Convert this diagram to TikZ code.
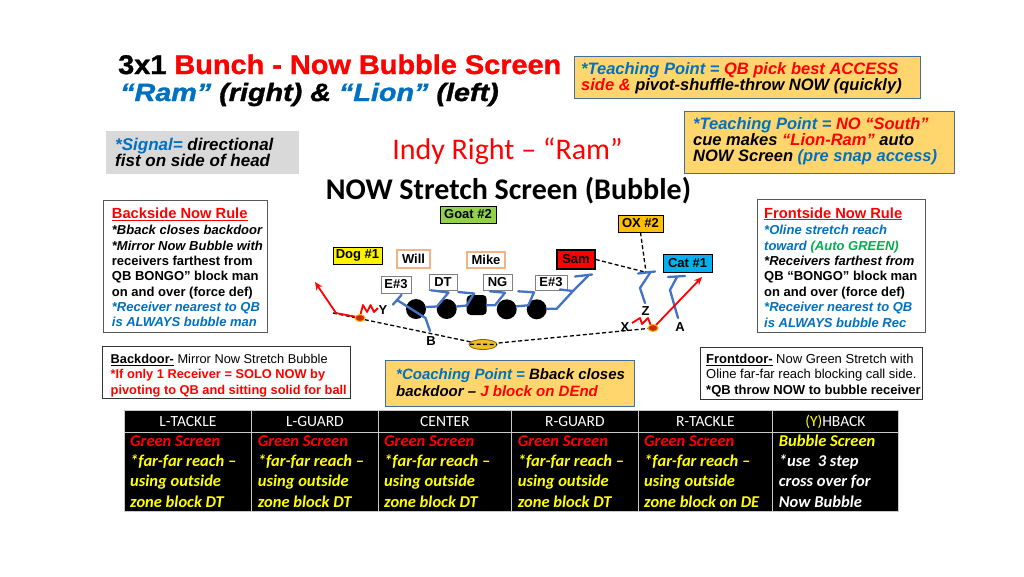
\documentclass[tikz,border=0pt]{standalone}
\usepackage{fontspec}
\usepackage{graphicx}
\setmainfont{Liberation Sans}
\newfontfamily\calfont{Carlito}
\newfontfamily\heavyfont{Liberation Sans Bold}[FakeBold=1.2]
\newfontfamily\heavyitfont{Liberation Sans Bold Italic}[FakeBold=1.2]
\usetikzlibrary{arrows.meta}
\lineskiplimit=-100pt
\lineskip=0pt
\newcommand\fsz[2]{\fontsize{#1}{#2}\selectfont\lineskiplimit=-100pt\lineskip=0pt\relax}
\newcommand\mystrut[1]{\rule{0pt}{#1pt}}
\definecolor{tblue}{RGB}{0,112,192}
\definecolor{tred}{RGB}{255,0,0}
\definecolor{tpfill}{RGB}{255,214,110}
\definecolor{tpdraw}{RGB}{70,110,150}
\definecolor{agreen}{RGB}{0,176,80}
\definecolor{sigfill}{RGB}{217,217,217}
\definecolor{blk}{RGB}{68,114,196}
\definecolor{goatc}{RGB}{146,208,80}
\definecolor{oxc}{RGB}{255,192,0}
\definecolor{catc}{RGB}{0,176,240}
\definecolor{lbord}{RGB}{244,177,131}
\definecolor{tyel}{RGB}{255,255,0}
\definecolor{gridc}{RGB}{200,200,200}
\definecolor{ballc}{RGB}{200,45,20}
\definecolor{ballo}{RGB}{255,180,0}
\definecolor{fbc}{RGB}{240,190,40}
\definecolor{fbd}{RGB}{140,100,0}
\tikzset{
  txt/.style={inner sep=0pt, align=left, anchor=north west},
  tpbox/.style={draw=tpdraw, fill=tpfill, line width=1pt, anchor=north west, inner sep=0pt},
  rulebox/.style={draw=black!65, fill=white, line width=0.9pt, anchor=north west, inner sep=0pt},
  doorbox/.style={draw=black!80, fill=white, line width=0.9pt, anchor=north west, inner sep=0pt},
  tag/.style={draw=black, line width=0.7pt, inner sep=0pt, font=\bfseries\fsz{13}{13}},
  oline/.style={draw=gray, fill=white, line width=0.8pt, inner sep=0pt, font=\bfseries\fsz{13}{13}},
  lbk/.style={draw=lbord, fill=white, line width=1.5pt, inner sep=0pt, font=\bfseries\fsz{13}{13}},
  block/.style={draw=blk, line width=2.3pt, line join=round, line cap=round},
  motion/.style={draw=red, line width=1.8pt, line join=round},
  assign/.style={draw=black, line width=1.3pt, dash pattern=on 4pt off 2.5pt},
  man/.style={circle, fill=black, minimum size=20pt, inner sep=0pt},
  lbl/.style={font=\bfseries\fsz{13}{13}, inner sep=0pt},
  hdr/.style={text=white, font=\calfont\fsz{15.5}{15.5}, anchor=base, inner sep=0pt},
  cell/.style={txt, font=\calfont\bfseries\itshape\fsz{16.5}{20.3}, text=tyel},
}
\begin{document}
\begin{tikzpicture}[x=1pt,y=-1pt]
\path[use as bounding box, fill=white] (0,0) rectangle (1024,576);

% ---------- title ----------
\node[anchor=base west, inner sep=0pt] (t1) at (118,74)
  {\scalebox{1.07}[1]{\heavyfont\fsz{27}{27}3x1 \textcolor{tred}{Bunch - Now Bubble Screen}}};
\node[anchor=base west, inner sep=0pt] (t2) at (120,101)
  {\scalebox{1.15}[1]{\heavyitfont\fsz{25}{25}\textcolor{tblue}{“Ram”} (right) \& \textcolor{tblue}{“Lion”} (left)}};

% ---------- teaching points ----------
\node[tpbox, minimum width=346pt, minimum height=42pt] (tp1box) at (574,56) {};
\node[txt, font=\bfseries\itshape\fsz{16.5}{16.5}] (tp1) at (581,60)
  {\mystrut{14}\textcolor{tblue}{*Teaching Point =} \textcolor{tred}{QB pick best ACCESS}\\
   \textcolor{tred}{side \&} pivot-shuffle-throw NOW (quickly)};
\node[tpbox, minimum width=270pt, minimum height=62pt] (tp2box) at (684,111) {};
\node[txt, font=\bfseries\itshape\fsz{16.5}{16}] (tp2) at (693,115)
  {\mystrut{14}\textcolor{tblue}{*Teaching Point =} \textcolor{tred}{NO “South”}\\
   cue makes \textcolor{tred}{“Lion-Ram”} auto\\
   NOW Screen \textcolor{tblue}{(pre snap access)}};

% ---------- signal ----------
\node[fill=sigfill, anchor=north west, minimum width=193pt, minimum height=43pt, inner sep=0pt] (sigbox) at (106,131) {};
\node[txt, font=\bfseries\itshape\fsz{17}{15.5}] (sig) at (115,136)
  {\mystrut{14.5}\textcolor{tblue}{*Signal=} directional\\fist on side of head};

% ---------- center titles ----------
\node[anchor=base, inner sep=0pt, font=\calfont\fsz{30}{30}, text=tred] (indy) at (507.5,159) {Indy Right – “Ram”};
\node[anchor=base, inner sep=0pt, font=\calfont\bfseries\fsz{30}{30}] (nowss) at (508.5,199) {NOW Stretch Screen (Bubble)};

% ---------- backside rule ----------
\node[rulebox, minimum width=164pt, minimum height=132pt] (bsbox) at (103,200) {};
\node[anchor=base west, inner sep=0pt, font=\bfseries\fsz{14.7}{14.7}, text=tred] (bshead) at (111.7,218.3) {\underline{Backside Now Rule}};
\node[txt, font=\bfseries\fsz{13}{15.3}] (bsbody) at (111.7,223.6)
  {\mystrut{11}\textit{*Bback closes backdoor}\\
   \textit{*Mirror Now Bubble with}\\
   receivers farthest from\\
   QB BONGO” block man\\
   on and over (force def)\\
   \textcolor{tblue}{\textit{*Receiver nearest to QB}}\\
   \textcolor{tblue}{\textit{is ALWAYS bubble man}}};

% ---------- frontside rule ----------
\node[rulebox, minimum width=168pt, minimum height=133pt] (fsbox) at (757,199) {};
\node[anchor=base west, inner sep=0pt, font=\bfseries\fsz{14.7}{14.7}, text=tred] (fshead) at (764,218) {\underline{Frontside Now Rule}};
\node[txt, font=\bfseries\fsz{13}{15.4}] (fsbody) at (764,223.4)
  {\mystrut{11}\textcolor{tblue}{\textit{*Oline stretch reach}}\\
   \textcolor{tblue}{\textit{toward}} \textcolor{agreen}{\textit{(Auto GREEN)}}\\
   \textit{*Receivers farthest from}\\
   QB “BONGO” block man\\
   on and over (force def)\\
   \textcolor{tblue}{\textit{*Receiver nearest to QB}}\\
   \textcolor{tblue}{\textit{is ALWAYS bubble Rec}}};

% ---------- bottom boxes ----------
\node[doorbox, minimum width=248pt, minimum height=52pt] (bdbox) at (102,346) {};
\node[txt, font=\fsz{12.8}{15.5}] (bd) at (110.5,352.1)
  {\mystrut{11}\textbf{\underline{Backdoor-}} Mirror Now Stretch Bubble\\
   \textcolor{tred}{\textbf{*If only 1 Receiver = SOLO NOW by}}\\
   \textcolor{tred}{\textbf{pivoting to QB and sitting solid for ball}}};
\node[tpbox, minimum width=249pt, minimum height=46pt] (cpbox) at (385,360) {};
\node[txt, font=\bfseries\itshape\fsz{15}{17.5}] (cp) at (396,366.3)
  {\mystrut{12.7}\textcolor{tblue}{*Coaching Point =} Bback closes\\
   backdoor – \textcolor{tred}{J block on DEnd}};
\node[doorbox, minimum width=222pt, minimum height=52pt] (fdbox) at (700,347) {};
\node[txt, font=\fsz{13}{15.5}] (fd) at (706,352)
  {\mystrut{11}\textbf{\underline{Frontdoor-}} Now Green Stretch with\\
   Oline far-far reach blocking call side.\\
   \textbf{*QB throw NOW to bubble receiver}};

% ---------- table ----------
\fill[black] (124,410) rectangle (898,511);
\draw[gridc, line width=1pt] (124,410) rectangle (898,511);
\draw[gridc, line width=1pt] (124,432) -- (898,432);
\foreach \gx in {251.7,378,511.7,638,772.7} \draw[gridc, line width=1pt] (\gx,410) -- (\gx,511);
\node[hdr] (h1) at (187.9,426) {L-TACKLE};
\node[hdr] (h2) at (314.9,426) {L-GUARD};
\node[hdr] (h3) at (444.9,426) {CENTER};
\node[hdr] (h4) at (574.9,426) {R-GUARD};
\node[hdr] (h5) at (705.4,426) {R-TACKLE};
\node[hdr] (h6) at (835.4,426) {\textcolor{tyel}{(Y)}HBACK};
\node[cell] (c1) at (130,432) {\mystrut{14}\textcolor{tred}{Green Screen}\\*far-far reach –\\using outside\\zone block DT};
\node[cell] (c2) at (257.7,432) {\mystrut{14}\textcolor{tred}{Green Screen}\\*far-far reach –\\using outside\\zone block DT};
\node[cell] (c3) at (384,432) {\mystrut{14}\textcolor{tred}{Green Screen}\\*far-far reach –\\using outside\\zone block DT};
\node[cell] (c4) at (517.7,432) {\mystrut{14}\textcolor{tred}{Green Screen}\\*far-far reach –\\using outside\\zone block DT};
\node[cell] (c5) at (644,432) {\mystrut{14}\textcolor{tred}{Green Screen}\\*far-far reach –\\using outside\\zone block on DE};
\node[cell, text=white] (c6) at (778.7,432) {\mystrut{14}\textcolor{tyel}{Bubble Screen}\\*use~ 3 step\\cross over for\\Now Bubble};

% ---------- field: defenders ----------
\node[tag, fill=goatc, minimum width=56pt, minimum height=17pt] (goat) at (468,214.5) {Goat \#2};
\node[tag, fill=oxc, minimum width=45pt, minimum height=17pt] (ox) at (640.5,223.5) {OX \#2};
\node[tag, fill=yellow, minimum width=49pt, minimum height=17pt] (dog) at (357.5,255.5) {Dog \#1};
\node[lbk, minimum width=33pt, minimum height=18pt] (will) at (413.5,259) {Will};
\node[lbk, minimum width=38pt, minimum height=16pt] (mike) at (486,260) {Mike};
\node[tag, fill=tred, line width=1.5pt, minimum width=38pt, minimum height=19pt] (sam) at (576,259.5) {Sam};
\node[tag, fill=catc, minimum width=49pt, minimum height=18pt] (cat) at (687.5,263) {Cat \#1};
\node[oline, minimum width=30pt, minimum height=17pt] (e3l) at (396,284.5) {E\#3};
\node[oline, minimum width=28pt, minimum height=16pt] (dt) at (443,282) {DT};
\node[oline, minimum width=29pt, minimum height=16pt] (ng) at (497.5,282) {NG};
\node[oline, minimum width=32pt, minimum height=15pt] (e3r) at (551,282.5) {E\#3};

% ---------- offensive line ----------
\node[man] (lt) at (416,309) {};
\node[man] (lg) at (446.7,309) {};
\node[fill=black, rounded corners=4pt, minimum size=20pt, inner sep=0pt] (ctr) at (476.7,305) {};
\node[man] (rg) at (506.7,309.3) {};
\node[man] (rt) at (536.7,309.3) {};

% coordinates for assignments
\coordinate (zcap) at (646,272.3);
\coordinate (qbl) at (333,313);
\coordinate (qb) at (483,344.5);
\coordinate (qbr) at (653,328);

% dashed assignment lines
\draw[assign] (sam.east) -- (zcap);
\draw[assign] (ox.south) -- (zcap);
\draw[assign] (qbl) -- (qb) -- (qbr);

% blocks
\draw[block] (426,307) -- (437,306.5) -- (448.5,292.5) -- (431,290.3);
\draw[block] (456.7,306.5) -- (466.7,305.5) -- (474,293.5) -- (458.3,292);
\draw[block] (486.7,305.3) -- (495,305.3) -- (505,292.7) -- (490,291.3);
\draw[block] (516.7,306.3) -- (528.3,305.3) -- (534,292.3) -- (518.3,291.3);
\draw[block] (546.7,308.7) -- (556.7,308.7) -- (573,291) -- (560,289.5);
\draw[block] (573,291) -- (588,276);
\draw[block] (575,276.5) -- (592,274.5);
\draw[block] (430,331) -- (425.5,318) -- (397,300);
\draw[block] (393,304.5) -- (401.5,295);
\draw[block] (650,273) -- (640,288) -- (645,303);
\draw[block] (638,273.5) -- (655,271.5);
\draw[block] (677,277) -- (670,290) -- (678,318);
\draw[block] (668,277) -- (685,276);

% motions
\draw[motion] (378,308) -- (374,312) -- (370.5,305) -- (367,312) -- (363,305) -- (360,316);
\draw[motion, -{Stealth[length=8pt,width=7pt]}] (357,317) -- (336,313) -- (315,282);
\draw[motion] (632,323) -- (640,318) -- (642,324) -- (648,318) -- (651,326);
\draw[motion, -{Stealth[length=8pt,width=7pt]}] (656,325) -- (702,277);

% balls and QB
\draw[fill=ballc, draw=ballo, line width=1pt] (360,318) ellipse [x radius=5pt, y radius=3.5pt];
\draw[fill=ballc, draw=ballo, line width=1pt] (653,328) ellipse [x radius=5pt, y radius=3.5pt];
\draw[fill=fbc, draw=fbd, line width=0.8pt] (qb) ellipse [x radius=14pt, y radius=5pt];
\draw[assign] (470,344.2) -- (497,344.5);

% labels
\node[lbl] (ylab) at (383,310) {Y};
\node[lbl] (blab) at (431,341) {B};
\node[lbl] (zlab) at (645.5,311) {Z};
\node[lbl] (xlab) at (625,327) {X};
\node[lbl] (alab) at (680,327) {A};
\end{tikzpicture}
\end{document}
